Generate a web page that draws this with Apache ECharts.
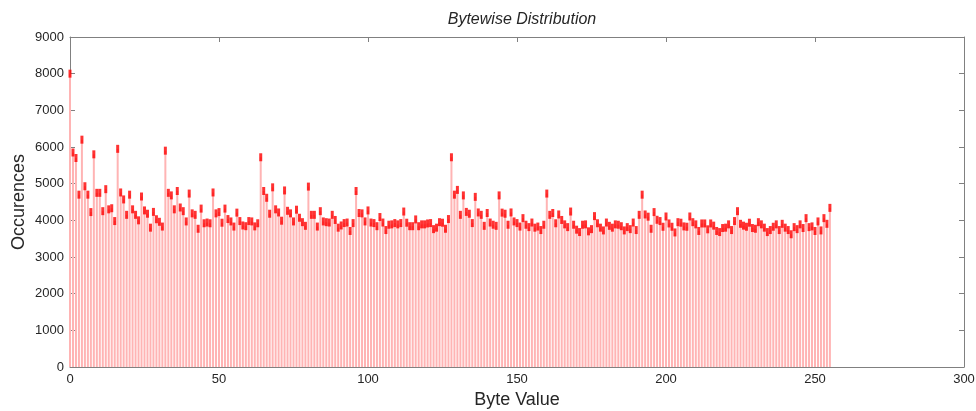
<!DOCTYPE html>
<html>
<head>
<meta charset="utf-8">
<script src="https://cdn.jsdelivr.net/npm/echarts@6/dist/echarts.min.js"></script>
<style>
html,body{margin:0;padding:0;background:#fff;}
#chart{width:976px;height:411px;}
</style>
</head>
<body>
<div id="chart"></div>
<script>
// Occurrence counts for byte values 0..255
const counts = [
8000,5850,5700,4700,6200,4930,4700,4225,5800,4750,4750,4250,4850,4300,4330,3980,
5950,4760,4570,4150,4700,4300,4150,4000,4650,4270,4180,3800,4230,4030,3960,3830,
5900,4750,4680,4300,4800,4350,4250,3970,4730,4190,4150,3770,4320,3920,3940,3920,
4760,4190,4225,3935,4320,4035,3970,3830,4210,3980,3860,3840,3980,3970,3835,3920,
5720,4800,4615,4180,4900,4300,4215,3990,4815,4260,4190,3970,4290,4070,3950,3850,
4920,4150,4150,3830,4250,3970,3950,3940,4150,4010,3800,3860,3925,3940,3710,3925,
4800,4200,4190,3970,4270,3940,3925,3840,4090,3940,3735,3880,3890,3925,3890,3925,
4240,3935,3840,3840,4025,3840,3890,3890,3915,3925,3760,3800,3950,3935,3770,4035,
5720,4700,4830,4150,4680,4230,4180,3925,4640,4215,4150,3850,4200,3940,3880,3850,
4680,4210,4180,3880,4215,3970,3925,3830,4060,3880,3815,3940,3800,3830,3735,3880,
4730,4150,4200,3920,4160,4010,3890,3815,4240,3880,3745,3680,3880,3890,3700,3760,
4115,3920,3800,3725,3940,3850,3800,3890,3880,3840,3725,3815,3760,3940,3735,4150,
4700,4160,4100,3770,4225,4015,3980,3825,4105,3915,3825,3670,3950,3935,3835,3825,
4105,3950,3890,3710,3915,3915,3755,3915,3855,3710,3680,3790,3800,3890,3735,3980,
4250,3905,3855,3825,3935,3790,3770,3950,3890,3800,3680,3735,3825,3890,3735,3905,
3800,3735,3620,3815,3760,3890,3790,4060,3815,3835,3710,3970,3725,4060,3905,4340
];
const xTicks = [0, 50, 100, 150, 200, 250, 300];
const yTicks = [0, 1000, 2000, 3000, 4000, 5000, 6000, 7000, 8000, 9000];

const points = counts.map((v, i) => [i, v]);

const chart = echarts.init(document.getElementById('chart'), null, {renderer: 'canvas'});
const axisColor = '#808080';
const labelColor = '#262626';
const font = 'Liberation Sans, Arial, sans-serif';
const xMin = xTicks[0], xMax = xTicks[xTicks.length - 1];
const yMin = yTicks[0], yMax = yTicks[yTicks.length - 1];

const tickStyle = {show: true, inside: true, length: 5, lineStyle: {color: axisColor}};
const lineStyle = {show: true, onZero: false, lineStyle: {color: axisColor, width: 1}};

chart.setOption({
  animation: false,
  backgroundColor: '#ffffff',
  title: {
    text: 'Bytewise Distribution',
    left: 517, textAlign: 'center', top: 7,
    textStyle: {fontFamily: font, fontStyle: 'italic', fontWeight: 'normal', fontSize: 16, color: labelColor}
  },
  graphic: [{
    type: 'text', x: 19, y: 202, rotation: Math.PI / 2, silent: true,
    style: {text: 'Occurences', fontFamily: font, fontSize: 18, fill: labelColor,
            textAlign: 'center', textVerticalAlign: 'middle', verticalAlign: 'middle'}
  }],
  grid: {left: 70, right: 12, top: 37, bottom: 44, containLabel: false, outerBoundsMode: 'none'},
  xAxis: [{
    type: 'value', position: 'bottom', min: xMin, max: xMax, interval: 50,
    name: 'Byte Value', nameLocation: 'middle', nameGap: 24,
    nameTextStyle: {fontFamily: font, fontSize: 18, color: labelColor},
    axisLine: lineStyle, axisTick: tickStyle,
    axisLabel: {fontFamily: font, fontSize: 13, color: labelColor, margin: 6, formatter: v => String(v)},
    splitLine: {show: false}
  }, {
    type: 'value', position: 'top', min: xMin, max: xMax, interval: 50,
    axisLine: lineStyle, axisTick: tickStyle,
    axisLabel: {show: false}, splitLine: {show: false}
  }],
  yAxis: [{
    type: 'value', position: 'left', min: yMin, max: yMax, interval: 1000,
    axisLine: lineStyle, axisTick: tickStyle,
    axisLabel: {fontFamily: font, fontSize: 13, color: labelColor, margin: 6, formatter: v => String(v)},
    splitLine: {show: false}
  }, {
    type: 'value', position: 'right', min: yMin, max: yMax, interval: 1000,
    axisLine: lineStyle, axisTick: tickStyle,
    axisLabel: {show: false}, splitLine: {show: false}
  }],
  series: [{
    type: 'bar', xAxisIndex: 0, yAxisIndex: 0,
    data: points, barWidth: 2,
    itemStyle: {color: '#ffb4b4'},
    silent: true, z: 2
  }, {
    type: 'scatter', xAxisIndex: 1, yAxisIndex: 1,
    data: points, symbol: 'rect', symbolSize: [3, 8],
    itemStyle: {color: '#ff0000'},
    silent: true, z: 3
  }]
});
</script>
</body>
</html>
